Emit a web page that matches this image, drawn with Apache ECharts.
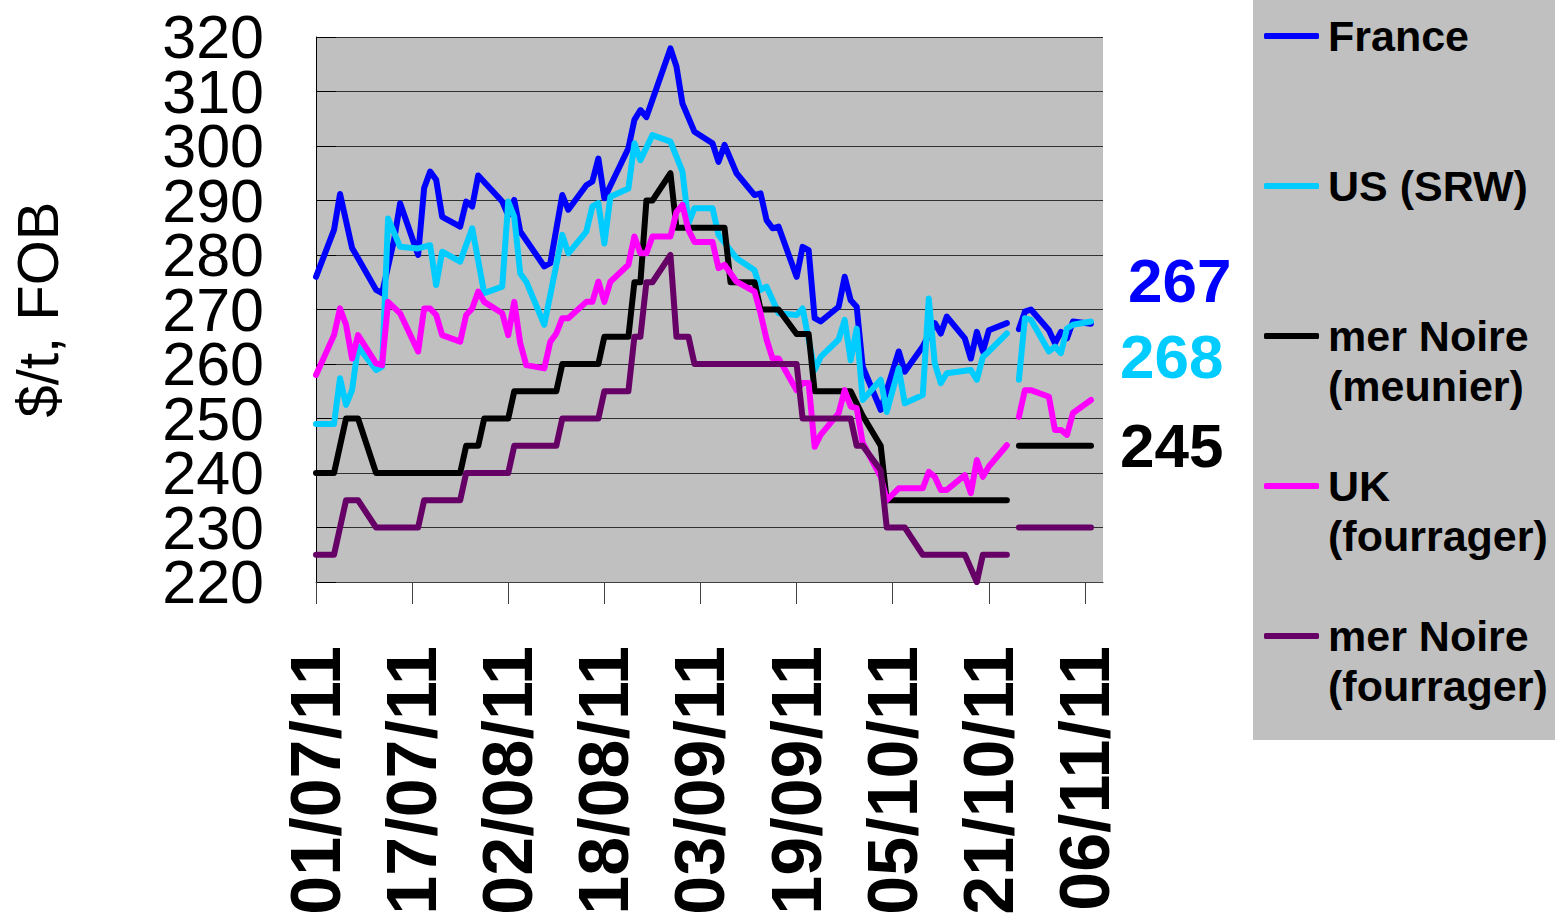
<!DOCTYPE html>
<html>
<head>
<meta charset="utf-8">
<script src="https://cdn.jsdelivr.net/npm/echarts@6/dist/echarts.min.js"></script>
<style>
html,body{margin:0;padding:0;background:#fff;}
#chart{width:1555px;height:914px;}
</style>
</head>
<body>
<div id="chart"></div>
<script>
// ---- data (dates dd/mm in 2011, prices $/t FOB) ----
const tickLabels = ['01/07/11','17/07/11','02/08/11','18/08/11','03/09/11','19/09/11','05/10/11','21/10/11','06/11/11'];
const axisEnd = '09/11/11';
const yMin = 220, yMax = 320, yStep = 10;

const seriesNames = ['France', 'US (SRW)', 'mer Noire (meunier)', 'UK (fourrager)', 'mer Noire (fourrager)'];
const legendLabels = ['\nFrance\n', '\nUS (SRW)\n', '\nmer Noire\n(meunier)', '\nUK\n(fourrager)', '\nmer Noire\n(fourrager)'];
const seriesColors = ['#0000FF', '#00CCFF', '#000000', '#FF00FF', '#660066'];

const franceDates = ['01/07','04/07','05/07','07/07','08/07','11/07','12/07','14/07','15/07','18/07','19/07','20/07','21/07','22/07','25/07','26/07','27/07','28/07','01/08','02/08','03/08','04/08','08/08','09/08','11/08','12/08','15/08','16/08','17/08','18/08','22/08','23/08','24/08','25/08','29/08','30/08','31/08','02/09','05/09','06/09','07/09','09/09','12/09','13/09','14/09','15/09','16/09','19/09','20/09','21/09','22/09','23/09','26/09','27/09','28/09','29/09','30/09','03/10','06/10','07/10','10/10','12/10','13/10','14/10','17/10','18/10','19/10','20/10','21/10','24/10','25/10','26/10','27/10','28/10','31/10','01/11','02/11','03/11','04/11','07/11'];
const franceValues = [276,284.6,291.2,281.3,279.4,273.6,273,282.8,289.5,280,292.3,295.3,293.8,287,285.2,289.8,288.9,294.6,289.8,287.3,290.1,284.3,277.9,278.5,291,288.3,292.8,293.5,297.7,290.4,299.6,304.8,306.6,305.3,317.9,314.6,307.8,302.6,300.5,297.1,300.2,295,291,291.3,286.4,284.9,285.2,276,281.5,280.9,268.4,267.8,270.5,276,271.7,270.5,259.5,251.6,262.3,258.6,263.2,267.5,265.6,268.7,264.7,261,265.9,262.3,266.2,267.5,null,266.4,269.6,270,266.2,263.8,265.9,264.7,267.8,267.4];

const usDates = ['01/07','04/07','05/07','06/07','07/07','08/07','11/07','12/07','13/07','15/07','18/07','20/07','21/07','22/07','25/07','27/07','29/07','01/08','02/08','03/08','04/08','05/08','08/08','11/08','12/08','15/08','16/08','17/08','18/08','19/08','22/08','23/08','24/08','26/08','29/08','31/08','01/09','02/09','05/09','06/09','09/09','12/09','13/09','14/09','16/09','19/09','20/09','22/09','23/09','26/09','27/09','28/09','29/09','30/09','03/10','04/10','06/10','07/10','10/10','11/10','12/10','13/10','14/10','18/10','19/10','20/10','21/10','24/10','25/10','26/10','27/10','28/10','31/10','01/11','02/11','03/11','04/11','07/11'];
const usValues = [249,249,257.4,252.5,255.2,263.2,258.9,259.5,286.7,281.5,281.2,281.8,274.5,280.6,278.8,284.9,273,274.2,289.8,287,276.6,275.1,267.2,283.7,280.3,284.3,288.9,289.5,282.1,290.7,292.2,300.5,297.4,302,300.8,295.3,285.8,288.6,288.6,283.7,279.4,277.2,273.6,274.2,269.3,269,270.2,258.9,261.3,264.5,268.1,260.7,266.5,253.4,257.1,251.2,259.2,252.8,254.3,272,260.1,256.5,258.3,258.9,257.1,261.3,262.3,265.6,null,257.1,268.4,268.1,262.3,263.2,262,266.5,267.2,267.8];

const bsMillingDates = ['01/07','04/07','06/07','08/07','11/07','25/07','26/07','28/07','29/07','02/08','03/08','10/08','11/08','17/08','18/08','22/08','23/08','24/08','25/08','26/08','29/08','30/08','07/09','08/09','12/09','13/09','16/09','19/09','21/09','22/09','28/09','30/09','03/10','04/10','24/10','25/10','26/10','07/11'];
const bsMillingValues = [240,240,250,250,240,240,245,245,250,250,255,255,260,260,265,265,275,275,290,290,295,285,285,275,275,270,270,265.5,265.5,255,255,250.5,245,235,235,null,245,245];

const ukDates = ['01/07','04/07','05/07','06/07','07/07','08/07','11/07','12/07','13/07','15/07','18/07','19/07','20/07','21/07','22/07','25/07','26/07','27/07','28/07','29/07','01/08','02/08','03/08','04/08','05/08','08/08','09/08','10/08','11/08','12/08','15/08','16/08','17/08','18/08','19/08','22/08','23/08','24/08','25/08','26/08','29/08','30/08','31/08','01/09','02/09','05/09','06/09','07/09','09/09','12/09','13/09','14/09','15/09','16/09','19/09','20/09','21/09','22/09','23/09','26/09','27/09','28/09','29/09','30/09','03/10','04/10','06/10','10/10','11/10','12/10','13/10','14/10','17/10','18/10','19/10','20/10','21/10','24/10','25/10','26/10','27/10','28/10','31/10','01/11','02/11','03/11','04/11','07/11'];
const ukValues = [258,265.3,270.2,267.2,261,265.3,260.1,259.8,271.4,269.3,262.3,270.2,270.2,269,265.3,264.1,269,270.2,273.3,271.4,269.3,265.3,271.4,263.8,259.8,259.2,264.1,265.6,268.4,268.4,271.4,271.4,275.1,271.4,275.1,278.2,283.4,280.3,280.3,283.4,283.4,287.9,289.2,284.6,282.4,282.4,277.6,278.2,275.1,273.3,269.3,264.5,261,261,255.2,256.5,256.5,244.8,247,251,255.2,252.2,251.9,245.5,239.3,235,237.2,237.2,240.2,239.3,236.9,236.9,239.6,236.3,242.4,239.3,241.2,245.1,null,250.3,255.2,255.2,254,247.9,247.9,247,251,253.4];

const bsFeedDates = ['01/07','04/07','06/07','08/07','11/07','18/07','19/07','25/07','26/07','02/08','03/08','10/08','11/08','17/08','18/08','22/08','23/08','24/08','25/08','26/08','29/08','30/08','01/09','02/09','19/09','20/09','28/09','29/09','30/09','03/10','04/10','07/10','10/10','17/10','19/10','20/10','24/10','25/10','26/10','07/11'];
const bsFeedValues = [225,225,235,235,230,230,235,235,240,240,245,245,250,250,255,255,265,265,275,275,280,265,265,260,260,250,250,245,245,240.5,230,230,225,225,220,225,225,null,230,230];

const lastLabels = ['267', '268', '245'];
const lastLabelColors = ['#0000FF', '#00CCFF', '#000000'];

// ---- helpers ----
function dayOf(s) {
  const p = s.split('/');
  const y = p[2] ? 2000 + Number(p[2]) : 2011;
  return Math.round((Date.UTC(y, Number(p[1]) - 1, Number(p[0])) - Date.UTC(2011, 6, 1)) / 864e5);
}
function pairs(dates, values) {
  return dates.map((d, i) => [dayOf(d), values[i] === null ? '-' : values[i]]);
}
const tickDays = tickLabels.map(dayOf);
const allSeries = [
  pairs(franceDates, franceValues),
  pairs(usDates, usValues),
  pairs(bsMillingDates, bsMillingValues),
  pairs(ukDates, ukValues),
  pairs(bsFeedDates, bsFeedValues)
];

const FONT = '"Liberation Sans", Arial, Helvetica, sans-serif';
const chart = echarts.init(document.getElementById('chart'), null, {renderer: 'svg'});

// y labels are split over two co-located axes (even / odd steps) so that the
// large, tightly packed labels are all kept, as in the original.
const yLabelStyle = (parity) => ({
  margin: 52,
  fontSize: 61,
  fontFamily: FONT,
  color: '#000',
  showMinLabel: true,
  showMaxLabel: true,
  hideOverlap: false,
  formatter: v => (Math.round((v - yMin) / yStep) % 2 === parity ? String(v) : '')
});

const option = {
  animation: false,
  backgroundColor: '#FFFFFF',
  grid: {
    left: 316, top: 37, width: 787, height: 545,
    outerBoundsMode: 'none',
    containLabel: false,
    show: true, backgroundColor: '#C0C0C0', borderWidth: 0
  },
  xAxis: {
    type: 'value',
    min: 0,
    max: dayOf(axisEnd),
    splitLine: {show: false},
    axisLine: {show: true, lineStyle: {color: '#404040', width: 1}},
    axisTick: {show: true, inside: false, length: 22, customValues: tickDays, lineStyle: {color: '#404040', width: 1}},
    axisLabel: {
      show: true,
      customValues: tickDays,
      rotate: 90,
      margin: 64,
      fontSize: 70,
      fontWeight: 'bold',
      fontFamily: FONT,
      color: '#000',
      formatter: v => { const i = tickDays.indexOf(v); return i >= 0 ? tickLabels[i] : ''; }
    }
  },
  yAxis: [
    {
      type: 'value',
      position: 'left',
      min: yMin, max: yMax, interval: yStep,
      name: '$/t, FOB',
      nameLocation: 'middle',
      nameRotate: 90,
      nameGap: 250,
      nameTextStyle: {fontSize: 58, fontFamily: FONT, color: '#000'},
      axisLine: {show: true, lineStyle: {color: '#000', width: 1}},
      axisTick: {show: true, inside: true, length: 20, lineStyle: {color: '#000', width: 1}},
      splitLine: {show: true, lineStyle: {color: '#303030', width: 1}},
      axisLabel: yLabelStyle(0)
    },
    {
      type: 'value',
      position: 'left',
      offset: 0,
      min: yMin, max: yMax, interval: yStep,
      axisLine: {show: false},
      axisTick: {show: false},
      splitLine: {show: false},
      axisLabel: yLabelStyle(1)
    }
  ],
  legend: {
    orient: 'vertical',
    left: 1253,
    top: -39,
    itemGap: 0,
    padding: [0, 40, 29, 11],
    backgroundColor: '#C0C0C0',
    icon: 'roundRect',
    itemWidth: 55,
    itemHeight: 6,
    data: seriesNames,
    formatter: name => legendLabels[seriesNames.indexOf(name)],
    textStyle: {fontSize: 43, fontWeight: 'bold', fontFamily: FONT, color: '#000', lineHeight: 50, padding: [0, 0, 0, 4]}
  },
  graphic: lastLabels.map((t, i) => ({
    type: 'text',
    left: [1128, 1120, 1120][i],
    top: [249, 325, 414][i],
    style: {text: t, fill: lastLabelColors[i], font: 'bold 62px ' + FONT}
  })),
  series: allSeries.map((data, i) => ({
    name: seriesNames[i],
    type: 'line',
    yAxisIndex: 0,
    data: data,
    symbol: 'none',
    showSymbol: false,
    connectNulls: false,
    color: seriesColors[i],
    lineStyle: {color: seriesColors[i], width: 6, cap: 'round', join: 'round'},
    emphasis: {disabled: true}
  }))
};
chart.setOption(option);
</script>
</body>
</html>
